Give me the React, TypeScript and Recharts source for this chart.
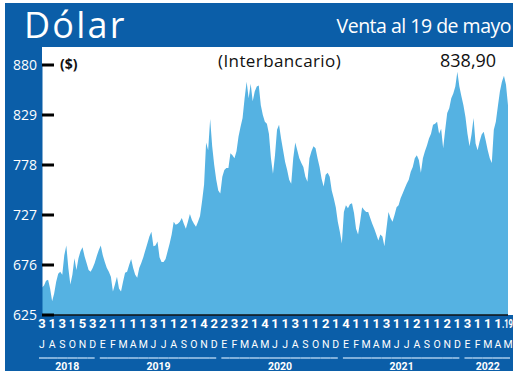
import { AreaChart, Area, XAxis, YAxis } from 'recharts'

// tipo de cambio interbancario, 5 lecturas por mes desde jul-2018
const rate2018 = [
  653, 655, 660, 661, 652, 639, 647, 659, 667, 669,
  666, 686, 696, 673, 656, 666, 683, 671, 683, 690,
  694, 685, 678, 671, 669, 673, 678, 685, 691, 696,
]
const rate2019 = [
  686, 679, 673, 669, 664, 649, 656, 664, 652, 649,
  659, 668, 669, 676, 682, 673, 666, 663, 673, 678,
  684, 691, 698, 705, 710, 695, 696, 700, 684, 679,
  679, 682, 690, 698, 707, 720, 717, 718, 720, 724,
  718, 713, 720, 728, 722, 718, 715, 720, 726, 741,
  758, 801, 793, 825, 797, 778, 763, 752, 749, 766,
]
const rate2020 = [
  773, 775, 775, 790, 788, 785, 792, 807, 817, 826,
  846, 863, 846, 861, 843, 853, 858, 859, 839, 829,
  822, 820, 810, 785, 769, 788, 814, 819, 805, 793,
  781, 773, 763, 759, 785, 801, 793, 785, 780, 776,
  766, 761, 785, 792, 797, 795, 785, 776, 764, 756,
  768, 770, 766, 752, 744, 735, 720, 710, 698, 730,
]
const rate2021 = [
  737, 734, 738, 739, 729, 713, 707, 720, 735, 732,
  730, 730, 724, 718, 713, 707, 701, 707, 705, 695,
  713, 730, 724, 720, 727, 735, 737, 744, 749, 754,
  759, 763, 771, 776, 785, 788, 783, 770, 785, 792,
  798, 805, 810, 819, 820, 822, 810, 815, 795, 814,
  831, 836, 846, 851, 858, 873, 858, 848, 839, 827,
]
const rate2022 = [
  810, 797, 809, 826, 800, 793, 802, 809, 812, 803,
  793, 785, 780, 814, 822, 838, 853, 863, 869, 860,
  838.9,
]

const tickDays = [
  '3', '1', '3', '1', '5', '3',
  '2', '1', '1', '1', '1', '3', '1', '1', '2', '1', '4', '2',
  '2', '3', '2', '1', '4', '1', '1', '3', '1', '1', '2', '1',
  '4', '1', '1', '1', '3', '1', '1', '2', '1', '1', '2', '1',
  '3', '1', '1', '1', '.19',
]
const tickMonths = [
  'J', 'A', 'S', 'O', 'N', 'D',
  'E', 'F', 'M', 'A', 'M', 'J', 'J', 'A', 'S', 'O', 'N', 'D',
  'E', 'F', 'M', 'A', 'M', 'J', 'J', 'A', 'S', 'O', 'N', 'D',
  'E', 'F', 'M', 'A', 'M', 'J', 'J', 'A', 'S', 'O', 'N', 'D',
  'E', 'F', 'M', 'A', 'M',
]
const yearLabels = ['2018', '2019', '2020', '2021', '2022']
const yearMonths = [6, 12, 12, 12, 5]
const yTicks = [625, 676, 727, 778, 829, 880]

const rates = [...rate2018, ...rate2019, ...rate2020, ...rate2021, ...rate2022]
const data = rates.map((v, i) => ({ i, v }))
const PER_MONTH = 5
const lastIdx = rates.length - 1
const xTicks = tickDays.map((_, k) => Math.min(k * PER_MONTH, lastIdx))

const DARK = '#0b5ea8'
const FILL = '#55b2e2'
const W = 520
const H = 377
const M = { top: 65, right: 12, bottom: 6, left: 5 }
const PLOT_W = W - M.left - 37 - M.right
const STEP = PLOT_W / (tickDays.length - 1)
const narrow = "'Liberation Sans Narrow', Roboto, sans-serif"
const sans = "'Open Sans', sans-serif"

function YTick(props: any) {
  const { x, y, payload } = props
  return (
    <g>
      <text x={Number(x) - 5} y={Number(y) + 5} textAnchor="end" fill="#fff" fontSize={14} fontFamily={sans}>
        {payload.value}
      </text>
      <rect x={Number(x)} y={Number(y) - 1.5} width={12} height={3} fill="#000" />
    </g>
  )
}

function XTick(props: any) {
  const { x, y, payload } = props
  const k = xTicks.indexOf(payload.value)
  if (k < 0) return null
  let start = 0
  let yi = 0
  while (yi < yearMonths.length && k >= start + yearMonths[yi]) {
    start += yearMonths[yi]
    yi++
  }
  const first = k === start
  const last = k === start + yearMonths[yi] - 1
  const isEnd = k === tickDays.length - 1
  const left = first ? x - 3 : x - STEP / 2
  const right = last ? x + 2 : x + STEP / 2
  return (
    <g>
      {isEnd ? (
        <text
          x={x + 5}
          y={y + 13}
          textAnchor="end"
          fill="#fff"
          fontSize={12}
          fontWeight="bold"
          fontFamily={narrow}
          textLength={11}
          lengthAdjust="spacingAndGlyphs"
        >
          {tickDays[k]}
        </text>
      ) : (
        <text x={x} y={y + 13} textAnchor="middle" fill="#fff" fontSize={13} fontWeight="bold" fontFamily={narrow}>
          {tickDays[k]}
        </text>
      )}
      <text x={x} y={y + 33} textAnchor="middle" fill="#fff" fontSize={10.5} fontFamily={narrow}>
        {tickMonths[k]}
      </text>
      <line x1={left} x2={right} y1={y + 43} y2={y + 43} stroke="#a8cdec" strokeWidth={1.5} />
      {first && (
        <text
          x={x + ((yearMonths[yi] - 1) / 2) * STEP}
          y={y + 55}
          textAnchor="middle"
          fill="#fff"
          fontSize={10.5}
          fontWeight="bold"
          fontFamily={narrow}
        >
          {yearLabels[yi]}
        </text>
      )}
    </g>
  )
}

export default function App() {
  return (
    <div style={{ position: 'absolute', left: 0, top: 0, width: W, height: H, background: '#fff' }}>
      <div style={{ position: 'absolute', left: 5, top: 3, width: 508, height: 44, background: DARK }} />
      <div style={{ position: 'absolute', left: 5, top: 47, width: 37, height: 268, background: DARK }} />
      <div style={{ position: 'absolute', left: 5, top: 315, width: 508, height: 56, background: DARK }} />
      <AreaChart width={W} height={H} data={data} margin={M}>
        <Area
          type="linear"
          dataKey="v"
          stroke="none"
          fill={FILL}
          fillOpacity={1}
          isAnimationActive={false}
        />
        <XAxis
          dataKey="i"
          type="number"
          domain={[0, lastIdx]}
          ticks={xTicks}
          interval={0}
          height={56}
          tickSize={0}
          tickMargin={0}
          tickLine={false}
          axisLine={{ stroke: '#111', strokeWidth: 1.5 }}
          tick={<XTick />}
        />
        <YAxis
          domain={[625, 880]}
          ticks={yTicks}
          width={37}
          tickSize={0}
          tickMargin={0}
          tickLine={false}
          axisLine={{ stroke: DARK, strokeWidth: 1 }}
          tick={<YTick />}
        />
      </AreaChart>
      <div style={{ position: 'absolute', left: 24, top: 7, color: '#fff', fontFamily: sans, fontSize: 36, lineHeight: 1, letterSpacing: 2.2 }}>
        Dólar
      </div>
      <div style={{ position: 'absolute', right: 9, top: 16, color: '#fff', fontFamily: sans, fontSize: 19.5, lineHeight: 1, letterSpacing: -0.5 }}>
        Venta al 19 de mayo
      </div>
      <div style={{ position: 'absolute', left: 60, top: 57, fontFamily: sans, fontSize: 14, fontWeight: 'bold', lineHeight: 1, color: '#111' }}>
        ($)
      </div>
      <div style={{ position: 'absolute', left: 218, top: 52, fontFamily: sans, fontSize: 17, lineHeight: 1, color: '#111', letterSpacing: 0.4 }}>
        (Interbancario)
      </div>
      <div style={{ position: 'absolute', left: 440, top: 51, fontFamily: sans, fontSize: 18, lineHeight: 1, color: '#111' }}>
        838,90
      </div>
    </div>
  )
}
